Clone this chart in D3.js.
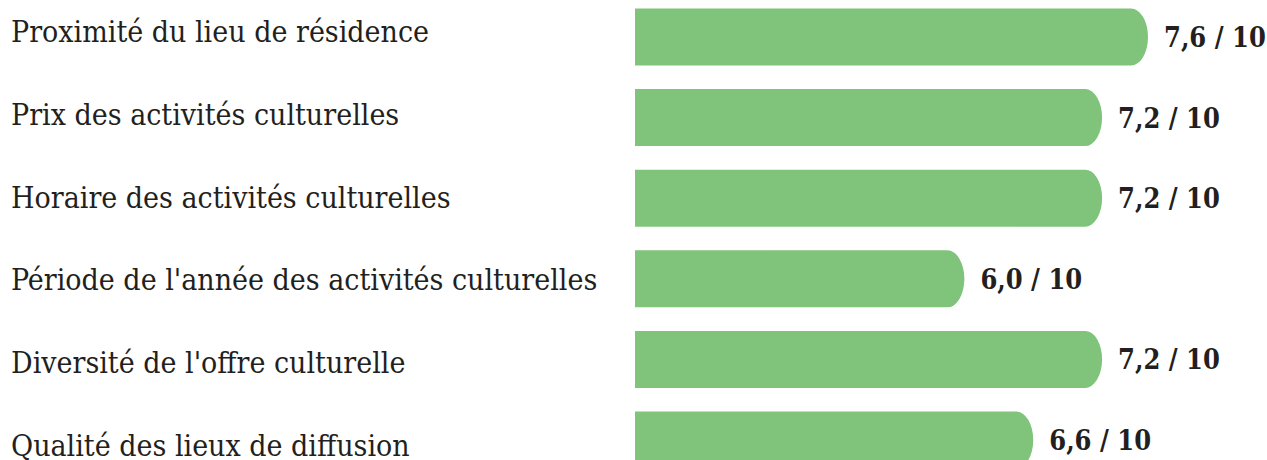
<!DOCTYPE html>
<html lang="fr">
<head>
<meta charset="utf-8">
<title>Critères de participation culturelle</title>
<script src="https://cdn.jsdelivr.net/npm/d3@7/dist/d3.min.js"></script>
<style>
  html, body { margin: 0; padding: 0; background: #ffffff; }
  svg { display: block; }
</style>
</head>
<body>
<div id="chart"></div>
<script>
// Critères et notes moyennes sur 10
const categories = [
  "Proximité du lieu de résidence",
  "Prix des activités culturelles",
  "Horaire des activités culturelles",
  "Période de l'année des activités culturelles",
  "Diversité de l'offre culturelle",
  "Qualité des lieux de diffusion"
];
const scores = [7.6, 7.2, 7.2, 6.0, 7.2, 6.6];
const scoreMax = 10;

const width = 1267, height = 460;
const barColor = "#80c37b";
const textColor = "#231f20";
const labelFont = "'DejaVu Serif Condensed', 'DejaVu Serif', serif";

const data = categories.map((c, i) => ({ category: c, score: scores[i] }));
const fmt = v => d3.format(".1f")(v).replace(".", ",") + " / " + scoreMax;

const svg = d3.select("#chart").append("svg")
  .attr("width", width)
  .attr("height", height);

// Horizontal scale: bars start at the left edge of the plot area
const x = d3.scaleLinear().domain([3.13, 7.6]).range([635, 1148]);
const y = d3.scaleBand().domain(categories).range([8.5, 468.5]).paddingInner(0.293).paddingOuter(0);
// Category labels sit on their own evenly spaced baselines
const yLabel = d3.scalePoint().domain(categories).range([42, 456]);

const x0 = x.range()[0];
const rx = 17;

function barPath(d) {
  const top = y(d.category), h = y.bandwidth(), ry = h / 2;
  const x1 = x(d.score);
  return `M${x0},${top} L${x1 - rx},${top} A${rx},${ry} 0 0 1 ${x1},${top + ry}` +
         ` A${rx},${ry} 0 0 1 ${x1 - rx},${top + h} L${x0},${top + h} Z`;
}

svg.append("g").selectAll("path")
  .data(data)
  .join("path")
  .attr("d", barPath)
  .attr("fill", barColor);

svg.append("g").selectAll("text")
  .data(data)
  .join("text")
  .attr("x", 11)
  .attr("y", d => yLabel(d.category))
  .attr("font-family", labelFont)
  .attr("font-size", 30)
  .attr("fill", textColor)
  .text(d => d.category);

svg.append("g").selectAll("text")
  .data(data)
  .join("text")
  .attr("x", d => x(d.score) + 16)
  .attr("y", d => y(d.category) + y.bandwidth() / 2 + 10)
  .attr("font-family", labelFont)
  .attr("font-weight", "bold")
  .attr("font-size", 27)
  .attr("fill", textColor)
  .text(d => fmt(d.score));
</script>
</body>
</html>
